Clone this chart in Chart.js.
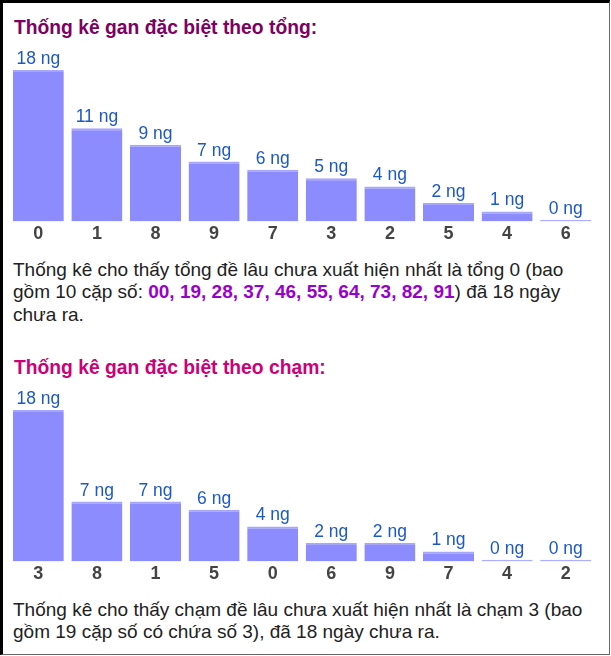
<!DOCTYPE html>
<html lang="vi">
<head>
<meta charset="utf-8">
<title>Thống kê gan đặc biệt</title>
<script src="https://cdn.jsdelivr.net/npm/chart.js@4.4.1/dist/chart.umd.min.js"></script>
<style>
    html, body { margin: 0; padding: 0; background: #fff; }
    body { width: 611px; height: 656px; position: relative; overflow: hidden; font-family: "Liberation Sans", Arial, sans-serif; }
    .frame {
        position: absolute; left: 0; top: 0; width: 606px; height: 651px;
        border-top: 3px solid #000; border-left: 3px solid #000;
        border-right: 1px solid #666; border-bottom: 1px solid #666;
    }
    .section { position: absolute; left: 0; width: 611px; height: 340px; }
    .section h3 {
        position: absolute; left: 14px; top: 17px; margin: 0;
        font-size: 19.3px; line-height: 22px; font-weight: bold; white-space: nowrap;
    }
    .chart-box { position: absolute; left: 9px; top: 44px; width: 586px; height: 203px; }
    .section p {
        position: absolute; left: 13px; top: 258.5px; width: 586px; margin: 0;
        font-size: 19px; line-height: 22.5px; color: #222;
    }
    .hl { color: #9900cc; font-weight: bold; }
</style>
</head>
<body>
<div class="frame"></div>

<div class="section" style="top:0">
    <h3 style="color:#800060">Thống kê gan đặc biệt theo tổng:</h3>
    <div class="chart-box"><canvas id="tong-chart"></canvas></div>
    <p>Thống kê cho thấy tổng đề lâu chưa xuất hiện nhất là tổng 0 (bao gồm 10 cặp số: <span class="hl">00, 19, 28, 37, 46, 55, 64, 73, 82, 91</span>) đã 18 ngày chưa ra.</p>
</div>

<div class="section" style="top:340px">
    <h3 style="color:#cc0077">Thống kê gan đặc biệt theo chạm:</h3>
    <div class="chart-box"><canvas id="cham-chart"></canvas></div>
    <p>Thống kê cho thấy chạm đề lâu chưa xuất hiện nhất là chạm 3 (bao gồm 19 cặp số có chứa số 3), đã 18 ngày chưa ra.</p>
</div>

<script>
// tổng: số ngày chưa ra theo từng tổng
const tongLabels = ['0', '1', '8', '9', '7', '3', '2', '5', '4', '6'];
const tongDays = [18, 11, 9, 7, 6, 5, 4, 2, 1, 0];

// chạm: số ngày chưa ra theo từng chạm
const chamLabels = ['3', '8', '1', '5', '0', '6', '9', '7', '4', '2'];
const chamDays = [18, 7, 7, 6, 4, 2, 2, 1, 0, 0];

const yMin = -0.2;
const yMax = 18;

// draws "N ng" above every bar
const barValuePlugin = {
    id: 'barValue',
    afterDatasetsDraw: function(chart) {
        const ctx = chart.ctx;
        const meta = chart.getDatasetMeta(0);
        const values = chart.data.datasets[0].data;
        ctx.save();
        ctx.font = '17.5px "Liberation Sans", Arial, sans-serif';
        ctx.fillStyle = '#1c58c8';
        ctx.textAlign = 'center';
        ctx.textBaseline = 'alphabetic';
        meta.data.forEach((bar, i) => {
            ctx.fillText(values[i] + ' ng', bar.x, bar.y - 6);
        });
        ctx.restore();
    }
};

function makeChart(canvasId, labels, values) {
    const ctx = document.getElementById(canvasId).getContext('2d');
    return new Chart(ctx, {
        type: 'bar',
        data: {
            labels: labels,
            datasets: [{
                data: values,
                base: yMin,
                backgroundColor: '#8c8cff',
                borderColor: '#a6a6ff',
                borderWidth: { top: 2, left: 0, right: 0, bottom: 0 },
                borderSkipped: 'start',
                categoryPercentage: 1,
                barPercentage: 0.871
            }]
        },
        plugins: [barValuePlugin],
        options: {
            responsive: true,
            maintainAspectRatio: false,
            animation: false,
            layout: { padding: { top: 26, left: 0, right: 0, bottom: 0 } },
            scales: {
                x: {
                    grid: { display: false, drawTicks: false },
                    border: { display: false },
                    ticks: {
                        padding: 2,
                        color: '#444',
                        font: { family: '"Liberation Sans", Arial, sans-serif', size: 18, weight: 'bold' }
                    }
                },
                y: {
                    display: false,
                    min: yMin,
                    max: yMax
                }
            },
            plugins: {
                legend: { display: false },
                tooltip: { enabled: false }
            }
        }
    });
}

makeChart('tong-chart', tongLabels, tongDays);
makeChart('cham-chart', chamLabels, chamDays);
</script>
</body>
</html>
